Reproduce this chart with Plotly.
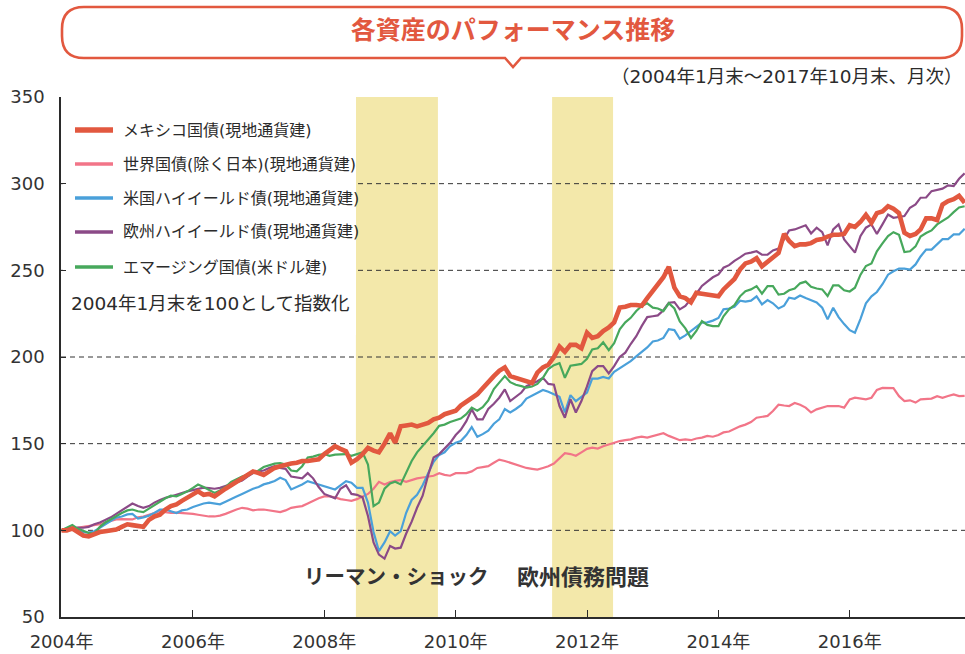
import pandas as pd
import plotly.graph_objects as go

# ---------------- data (index, 2004年1月末 = 100, monthly) ----------------
dates = pd.date_range("2004-02-01", periods=166, freq="MS") - pd.Timedelta(days=1)

mexico = [100, 100, 101, 99, 97, 96.5, 98, 99, 99.5, 100,
          100.5, 102, 103.5, 103, 102.5, 102, 106, 108, 109, 112,
          114, 115, 117, 119, 121, 122.5, 120.5, 121, 119.6, 122,
          124, 126, 128, 130, 132, 134, 133, 132, 134, 136,
          137, 138, 138.5, 139, 140, 140, 140.5, 141, 144, 146,
          148.5, 147, 145.6, 139, 141, 144, 147.6, 146, 145, 150,
          156, 150.5, 160, 160.5, 161, 160, 161, 162, 164, 165,
          167, 168, 169, 172, 174, 176, 178.5, 182, 186, 189,
          192, 194, 189, 188, 187, 186, 185, 191, 194, 195.5,
          200, 206, 203, 207, 207, 205, 214, 211, 212, 215,
          217, 220, 228.5, 229, 230, 230, 229.5, 234, 238, 242,
          246, 252, 240, 235, 234, 231.5, 237, 236.5, 236, 236,
          235, 239, 242, 245, 250.5, 254, 255, 257, 252.3, 255,
          258, 260, 271, 267, 264, 265, 265, 265.7, 267.5, 268,
          269.5, 270.5, 270.5, 271, 276, 275, 278, 282, 277.5, 283,
          284, 287, 285.5, 283, 271.7, 269.8, 271, 273.6, 280, 280,
          279, 288, 290, 291, 293, 289]

world = [100, 100.5, 100.5, 101.5, 102, 102.5, 103, 103.5, 104.5, 105.5,
         106.3, 106.5, 106.3, 106.3, 107.5, 108, 109, 110, 111, 110.5,
         110, 110.2, 110, 110, 109.5, 109, 108.5, 108, 108, 108.5,
         109.5, 111, 112, 113, 112.5, 111.5, 112, 112, 111.5, 111,
         110.5, 111.5, 113, 113.5, 114, 115.5, 117, 118.5, 119.6, 119.6,
         119, 118, 117.5, 117, 118, 119.6, 121, 124, 128, 126.4,
         127.8, 128.5, 129, 128, 129, 130, 130.5, 131, 131.5, 133,
         132, 131.5, 133, 133, 133, 134, 136, 136.5, 137, 139,
         140.8, 140, 139, 138, 137, 136, 135.5, 135, 136, 137,
         138.5, 141.5, 144.5, 144, 143, 145, 147, 147.7, 147.2, 148.5,
         149.5, 150.5, 151.5, 152, 152.5, 153.5, 154, 153.5, 154.5, 155,
         156, 154.5, 153, 152, 152.5, 152, 153, 153.5, 154.5, 154,
         155, 156.5, 157, 158.5, 160, 161, 162.5, 165, 165.5, 166,
         168.8, 172.5, 172, 171.7, 173.5, 172.5, 170.8, 168, 169.8, 171,
         171.7, 171.7, 171.7, 170.8, 175.5, 176.5, 176, 175.6, 176.5, 181,
         182.2, 182.2, 182, 177.4, 174.6, 175, 173.7, 175.6, 175.6, 176,
         177.4, 176.5, 177.5, 178.4, 177.4, 177.6]

us_hy = [100, 101, 101.5, 100.5, 99, 98.7, 99.5, 101.5, 103.4, 105.5,
         107.3, 108, 109.2, 109.5, 106.8, 107.5, 108.5, 110, 112, 112,
         111, 110, 111.5, 112, 113.5, 114.5, 115.5, 116, 115.5, 115,
         116.5, 117.8, 119.5, 121, 122.5, 124, 125, 126.5, 127.4, 128.5,
         130.3, 129, 123.6, 125, 126.5, 128.4, 127.5, 126.5, 125.5, 124.5,
         123.6, 126, 128.4, 127.5, 124.5, 124.5, 116, 99, 88, 93,
         99.5, 97, 99.5, 110, 117.5, 120.5, 126, 133, 139.5, 143.5,
         145, 148.6, 150.5, 151.5, 155, 159.6, 154, 155.5, 157.5, 161.5,
         164, 170, 168, 170, 172.4, 176, 177.6, 179, 181, 180,
         178.5, 177, 168, 178, 174.5, 177, 179.5, 187.5, 187.5, 188.5,
         187.6, 191.5, 193.5, 195.5, 197.6, 200.4, 203, 205.5, 209, 209.5,
         211, 216, 215.5, 210.5, 212.5, 215, 217.5, 219.8, 220, 221,
         222.5, 227.5, 228, 229, 232.5, 232, 232.5, 235, 230.3, 232.8,
         231, 228, 229.6, 234.2, 233.6, 235.5, 234, 232.8, 231.5, 228.4,
         221.7, 228.4, 223, 219, 215.5, 214, 222, 231, 235, 237.5,
         242, 247.5, 249.5, 251, 251, 250.5, 253.4, 258, 262, 262,
         265, 268, 268, 270.7, 270.7, 274]

eu_hy = [100, 100.5, 101, 101.6, 101.5, 102, 103.5, 104.5, 106, 107.5,
         109.5, 111.5, 113.5, 115.5, 114, 113, 114, 116, 117.5, 118.8,
         119.5, 120.3, 121.5, 122.5, 123.2, 124, 124.6, 124.3, 124, 124.5,
         125.5, 126.5, 127.5, 128.7, 131, 133, 134, 134.5, 136, 137,
         136, 135.5, 131, 130.5, 130, 133, 130, 125, 121, 119.8,
         118.5, 124, 126, 121, 120.5, 119, 108.3, 93, 86, 83.7,
         91, 89.5, 90, 98, 105, 113, 120, 132, 142, 144,
         147, 150.5, 155, 158, 163, 169.8, 164, 164, 170, 173,
         176.5, 181.3, 174.6, 177, 179.5, 183.2, 184.5, 186, 188, 184.5,
         184, 171.7, 165, 175.6, 168, 174.6, 183, 191.8, 194.7, 194.7,
         190.5, 194.7, 200, 202.5, 207.5, 212, 217.8, 223, 223.5, 224,
         227, 231.3, 231.7, 227.5, 229.5, 233.5, 236.5, 241, 243.5, 246,
         247.6, 251.5, 253, 255.5, 257.5, 259.6, 260.2, 261, 259, 259,
         261.5, 262.5, 268, 273, 273.6, 275, 276, 271.3, 274.6, 272,
         264.4, 273.6, 276.5, 267.8, 264, 260.2, 269.8, 274.6, 276.5, 271,
         276.5, 282.2, 280.3, 280.7, 281.3, 286.1, 288, 291.9, 292, 295.7,
         296.5, 297.1, 299, 298.6, 302.8, 306]

em = [100, 101.5, 103, 101, 99.5, 98.5, 98, 102, 104.5, 106.5,
      108, 110, 111.5, 112, 111, 110.5, 112.5, 114.5, 116.5, 118.5,
      120, 119.6, 121, 122.5, 124.5, 126.4, 125, 123.5, 121.6, 123,
      125, 128, 129.5, 131, 132, 133.4, 134.5, 136.5, 137.5, 138.5,
      138.8, 138, 134.5, 134, 137, 142, 142.5, 143.5, 144, 143,
      143.7, 143.8, 144, 143, 144, 145, 138, 114, 116, 124,
      127, 128, 126.5, 133, 140, 145, 148.6, 152, 156, 160.3,
      161, 162.5, 163.5, 164.5, 167, 170.8, 169, 171, 175, 181.5,
      185.2, 189, 185.5, 184, 183.2, 182.3, 183, 184.5, 188, 193,
      195.3, 196.4, 188, 195, 195.5, 196, 199, 204.3, 205, 208.5,
      204, 208, 216, 220, 222.6, 226.5, 229.4, 231, 228.5, 228,
      226.5, 231, 228, 220.5, 216.5, 211, 215, 220.7, 218.5, 217.8,
      217.8, 223.5, 227.5, 230, 235, 238, 239, 240.9, 236.5, 240.9,
      240.9, 236, 236.5, 238.5, 239.5, 242.5, 243.5, 240.5, 239.5, 239,
      235.2, 241.3, 241.3, 238.5, 237.8, 240, 247.5, 252.5, 254, 261,
      265.5, 269.8, 272, 270.5, 260.5, 261, 263.8, 269.5, 271.5, 273,
      276.5, 278.4, 280.5, 283.6, 286.3, 287]

series_names = ["メキシコ国債(現地通貨建)", "世界国債(除く日本)(現地通貨建)",
                "米国ハイイールド債(現地通貨建)", "欧州ハイイールド債(現地通貨建)",
                "エマージング国債(米ドル建)"]

y_ticks = [50, 100, 150, 200, 250, 300, 350]
y_grid = [100, 150, 200, 250, 300]
x_tick_dates = ["2004-01-31", "2006-01-31", "2008-01-31", "2010-01-31",
                "2012-01-31", "2014-01-31", "2016-01-31"]
x_tick_labels = ["2004年", "2006年", "2008年", "2010年", "2012年", "2014年", "2016年"]

shade_start = ["2008-07-25", "2011-07-21"]
shade_end = ["2009-10-24", "2012-06-24"]
event_labels = ["リーマン・ショック", "欧州債務問題"]
event_label_y = 74

title_text = "各資産のパフォーマンス推移"
subtitle_text = "（2004年1月末〜2017年10月末、月次）"
note_text = "2004年1月末を100として指数化"

for s in (mexico, world, us_hy, eu_hy, em):
    assert len(s) == len(dates), len(s)

# ---------------- styling ----------------
W, H = 965, 654
ML, MR, MT, MB = 61, 0, 97, 37
PW, PH = W - ML - MR, H - MT - MB

RED = "#e2583f"
PINK = "#f27588"
BLUE = "#4aa0da"
PURPLE = "#8b4a87"
GREEN = "#47a85c"
YELLOW = "#f3e8aa"
INK = "#2b2b2b"
CJK = "Noto Sans CJK JP"
NUMF = "DejaVu Sans, Noto Sans CJK JP"


def px(X):
    return (X - ML) / PW


def py(Y):
    return (H - MB - Y) / PH


def P(X, Y):
    return f"{px(X):.5f},{py(Y):.5f}"


styles = {
    "mexico": (mexico, series_names[0], RED, 4.6),
    "world": (world, series_names[1], PINK, 2.2),
    "us_hy": (us_hy, series_names[2], BLUE, 2.2),
    "eu_hy": (eu_hy, series_names[3], PURPLE, 2.2),
    "em": (em, series_names[4], GREEN, 2.2),
}

fig = go.Figure()
for key in ["world", "us_hy", "eu_hy", "em", "mexico"]:
    vals, name, color, width = styles[key]
    fig.add_trace(go.Scatter(x=dates, y=vals, name=name, mode="lines",
                             line=dict(color=color, width=width),
                             hoverinfo="skip"))

shapes = []
# event shading
for s0, s1 in zip(shade_start, shade_end):
    shapes.append(dict(type="rect", xref="x", yref="paper", x0=s0, x1=s1, y0=0, y1=1,
                       fillcolor=YELLOW, line=dict(width=0), layer="below"))
# dashed grid
for g in y_grid:
    shapes.append(dict(type="line", xref="paper", yref="y", x0=0, x1=1, y0=g, y1=g,
                       line=dict(color="#333333", width=1, dash="5px,4px"), layer="below"))
# white legend panel
shapes.append(dict(type="rect", xref="paper", yref="paper", x0=0.002, x1=px(356),
                   y0=py(335), y1=1, fillcolor="white", line=dict(width=0), layer="below"))

# legend swatches + labels
annotations = []
legend_order = ["mexico", "world", "us_hy", "eu_hy", "em"]
row_y = [130, 164, 198, 232, 267]
for key, Y in zip(legend_order, row_y):
    vals, name, color, width = styles[key]
    shapes.append(dict(type="line", xref="paper", yref="paper",
                       x0=px(75), x1=px(113), y0=py(Y), y1=py(Y),
                       line=dict(color=color, width=5.5 if key == "mexico" else 3.5),
                       layer="above"))
    annotations.append(dict(xref="paper", yref="paper", x=px(121), y=py(Y),
                            xanchor="left", yanchor="middle", showarrow=False,
                            text=name, font=dict(family=NUMF, size=16, color=INK)))
annotations.append(dict(xref="paper", yref="paper", x=px(69), y=py(303),
                        xanchor="left", yanchor="middle", showarrow=False,
                        text=note_text, font=dict(family=NUMF, size=18.5, color=INK)))

# event labels centred on the shaded periods
event_sizes = [20.5, 22]
for s0, s1, lab, fs in zip(shade_start, shade_end, event_labels, event_sizes):
    mid = pd.Timestamp(s0) + (pd.Timestamp(s1) - pd.Timestamp(s0)) / 2
    annotations.append(dict(xref="x", yref="y", x=mid, y=event_label_y,
                            xanchor="center", yanchor="middle", showarrow=False,
                            text=f"<b>{lab}</b>",
                            font=dict(family=CJK, size=fs, color="#333333")))

# subtitle
annotations.append(dict(xref="paper", yref="paper", x=px(964), y=py(77),
                        xanchor="right", yanchor="middle", showarrow=False,
                        text=subtitle_text, font=dict(family=NUMF, size=18.5, color=INK)))

# title speech-bubble frame
L, R, T, B, r = 62, 962, 7, 58, 22
path = (f"M{P(L + r, T)} L{P(R - r, T)} Q{P(R, T)} {P(R, T + r)} L{P(R, B - r)} "
        f"Q{P(R, B)} {P(R - r, B)} L{P(521, B)} L{P(513, 67)} L{P(505, B)} "
        f"L{P(L + r, B)} Q{P(L, B)} {P(L, B - r)} L{P(L, T + r)} Q{P(L, T)} {P(L + r, T)} Z")
shapes.append(dict(type="path", xref="paper", yref="paper", path=path,
                   line=dict(color=RED, width=2.6), fillcolor="rgba(0,0,0,0)",
                   layer="above"))

fig.update_layout(
    width=W, height=H,
    margin=dict(l=ML, r=MR, t=MT, b=MB, pad=0),
    paper_bgcolor="white", plot_bgcolor="white",
    showlegend=False,
    font=dict(family=CJK, color=INK),
    title=dict(text=f"<b>{title_text}</b>", x=513 / W, y=1 - 30 / H,
               xanchor="center", yanchor="middle",
               font=dict(family=CJK, size=25, color=RED)),
    xaxis=dict(type="date", range=["2004-01-28", "2017-11-02"],
               tickvals=x_tick_dates, ticktext=x_tick_labels,
               ticks="inside", ticklen=7, tickwidth=1.3, tickcolor=INK,
               showline=True, linecolor=INK, linewidth=1.6,
               showgrid=False, zeroline=False, ticklabelstandoff=8,
               tickfont=dict(family=NUMF, size=18, color="#333333")),
    yaxis=dict(range=[50, 350], tickvals=y_ticks,
               ticks="inside", ticklen=5, tickwidth=1.3, tickcolor=INK,
               showline=True, linecolor=INK, linewidth=1.6,
               showgrid=False, zeroline=False, ticklabelstandoff=11,
               tickfont=dict(family=NUMF, size=18, color="#333333")),
    shapes=shapes,
    annotations=annotations,
)

# remove the browser's default 8px page margin so the figure fills the window
fig.write_html("out.html",
               config={"displayModeBar": False},
               post_script="document.body.style.margin='0';"
                           "document.body.style.overflow='hidden';")
